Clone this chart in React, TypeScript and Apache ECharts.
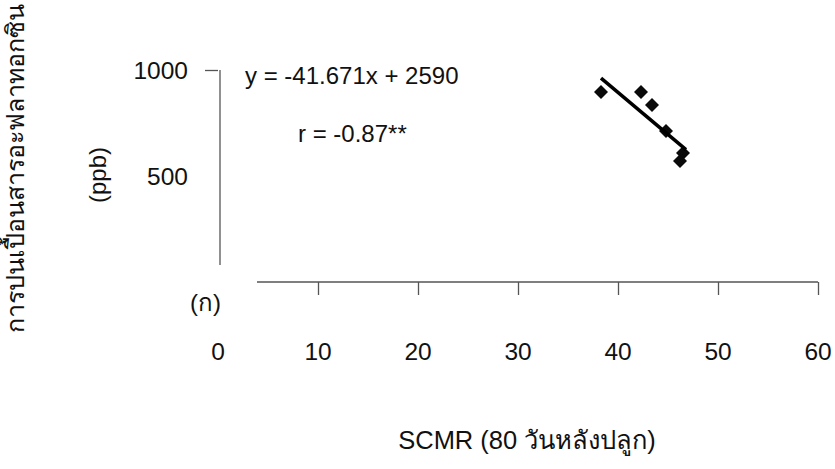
import React, { useEffect, useRef } from "react";
import * as echarts from "echarts";

const xTickValues = [10, 20, 30, 40, 50, 60];
const xLabelValues = [0, 10, 20, 30, 40, 50, 60];
const yLabelValues = [500, 1000];
const yTickValues = [1000];
const scmr = [38.3, 42.3, 43.4, 44.8, 46.5, 46.2];
const aflatoxin = [896, 896, 835, 712, 608, 571];
const trendX = [38.3, 46.8];
const trendY = [962, 624];
const equationText = "y = -41.671x + 2590";
const rText = "r = -0.87**";
const yTitle = "การปนเปื้อนสารอะฟลาทอกซิน";
const yUnit = "(ppb)";
const xTitle = "SCMR (80 วันหลังปลูก)";
const panelLabel = "(ก)";

const FONT = "'Liberation Sans', Arial, 'Noto Sans', sans-serif";

export default function App() {
  const ref = useRef<HTMLDivElement>(null);
  useEffect(() => {
    document.body.style.margin = "0";
    const chart = echarts.init(ref.current!, null, { renderer: "svg" });
    const ink = "#111";
    const axisColor = "#555";
    chart.setOption({
      animation: false,
      backgroundColor: "#fff",
      grid: { left: 218, right: 17, top: 70, bottom: 187 },
      xAxis: {
        type: "value",
        min: 0,
        max: 60,
        interval: 10,
        splitLine: { show: false },
        axisLine: { show: false },
        axisTick: {
          show: true,
          customValues: xTickValues,
          length: 13,
          lineStyle: { color: axisColor, width: 1.3 },
        },
        axisLabel: {
          customValues: xLabelValues,
          margin: 57,
          color: ink,
          fontSize: 24.5,
          fontFamily: FONT,
          formatter: (v: number) => String(v),
        },
      },
      yAxis: {
        type: "value",
        min: 0,
        max: 1000,
        interval: 500,
        splitLine: { show: false },
        axisLine: { show: false },
        axisTick: {
          show: true,
          customValues: yTickValues,
          length: 13,
          lineStyle: { color: axisColor, width: 1.3 },
        },
        axisLabel: {
          customValues: yLabelValues,
          margin: 30,
          color: ink,
          fontSize: 24.5,
          fontFamily: FONT,
          formatter: (v: number) => String(v),
        },
      },
      graphic: [
        {
          type: "line",
          shape: { x1: 220, y1: 70, x2: 220, y2: 265 },
          style: { stroke: axisColor, lineWidth: 1.3 },
        },
        {
          type: "line",
          shape: { x1: 257, y1: 282, x2: 818, y2: 282 },
          style: { stroke: axisColor, lineWidth: 1.3 },
        },
        {
          type: "text",
          x: 245,
          y: 75,
          style: {
            text: equationText,
            fill: ink,
            font: `24px ${FONT}`,
            textVerticalAlign: "middle",
          },
        },
        {
          type: "text",
          x: 298,
          y: 133,
          style: {
            text: rText,
            fill: ink,
            font: `24px ${FONT}`,
            textVerticalAlign: "middle",
          },
        },
        {
          type: "text",
          x: 190,
          y: 302,
          style: {
            text: panelLabel,
            fill: ink,
            font: `24px ${FONT}`,
            textVerticalAlign: "middle",
          },
        },
        {
          type: "text",
          x: 15,
          y: 168,
          rotation: Math.PI / 2,
          style: {
            text: yTitle,
            fill: ink,
            font: `25px ${FONT}`,
            textAlign: "center",
            textVerticalAlign: "middle",
          },
        },
        {
          type: "text",
          x: 97,
          y: 175,
          rotation: Math.PI / 2,
          style: {
            text: yUnit,
            fill: ink,
            font: `24px ${FONT}`,
            textAlign: "center",
            textVerticalAlign: "middle",
          },
        },
        {
          type: "text",
          x: 527,
          y: 440,
          style: {
            text: xTitle,
            fill: ink,
            font: `25.5px ${FONT}`,
            textAlign: "center",
            textVerticalAlign: "middle",
          },
        },
      ],
      series: [
        {
          type: "scatter",
          data: scmr.map((x, i) => [x, aflatoxin[i]]),
          symbol: "diamond",
          symbolSize: 14,
          itemStyle: { color: "#0a0a0a", opacity: 1 },
          z: 3,
        },
        {
          type: "line",
          data: trendX.map((x, i) => [x, trendY[i]]),
          showSymbol: false,
          symbol: "none",
          lineStyle: { color: "#000", width: 3.5 },
          z: 4,
        },
      ],
    });
    return () => chart.dispose();
  }, []);
  return <div ref={ref} style={{ width: 835, height: 469 }} />;
}
